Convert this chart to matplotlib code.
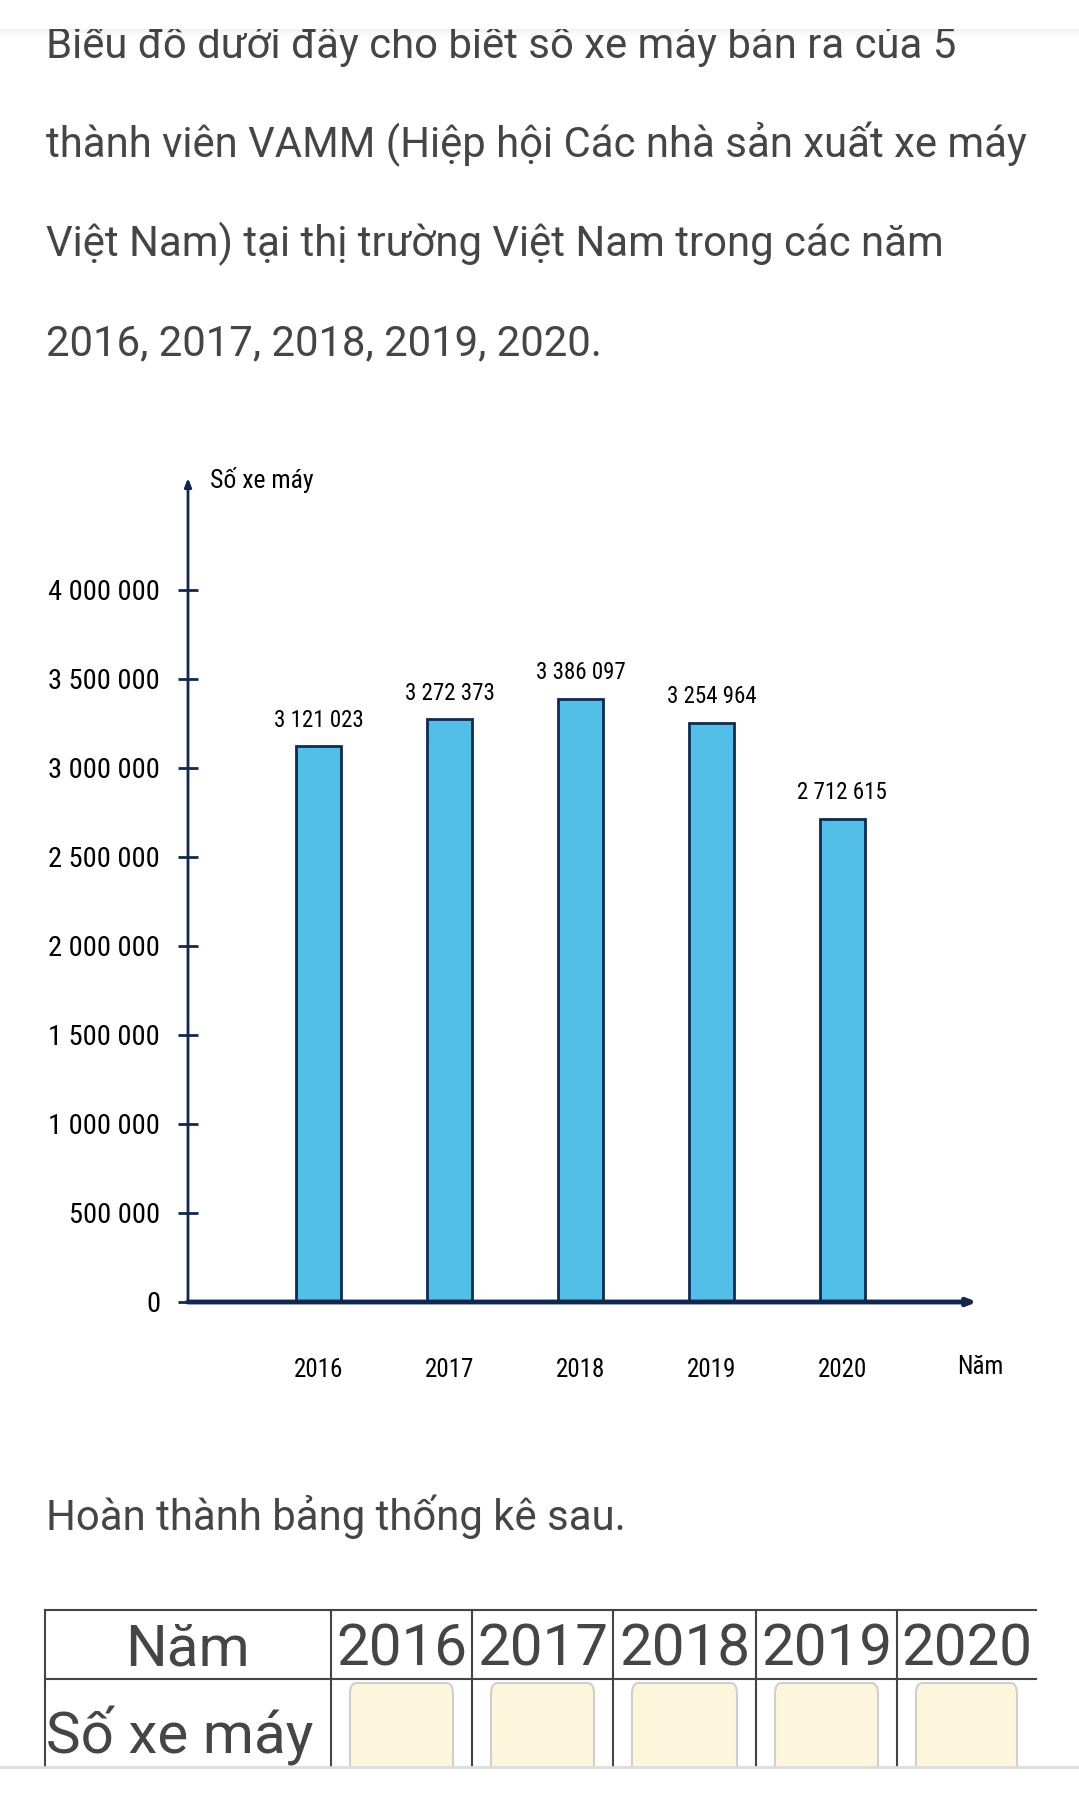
import matplotlib
matplotlib.use("Agg")
import matplotlib.pyplot as plt
from matplotlib.patches import Rectangle, FancyBboxPatch
from matplotlib import font_manager as fm
from matplotlib.font_manager import FontProperties

# ---------------- data ----------------
years = ["2016", "2017", "2018", "2019", "2020"]
sales = [3121023, 3272373, 3386097, 3254964, 2712615]
yticks = [0, 500000, 1000000, 1500000, 2000000, 2500000, 3000000, 3500000, 4000000]

paragraph = [
    "Biểu đồ dưới đây cho biết số xe máy bán ra của 5",
    "thành viên VAMM (Hiệp hội Các nhà sản xuất xe máy",
    "Việt Nam) tại thị trường Việt Nam trong các năm",
    "2016, 2017, 2018, 2019, 2020.",
]
instruction = "Hoàn thành bảng thống kê sau."
table_head = "Năm"
table_row = "Số xe máy"
y_title = "Số xe máy"
x_title = "Năm"

# ---------------- condensed font lookup ----------------
def find_condensed():
    cands = []
    for f in fm.fontManager.ttflist:
        n = f.fname.lower()
        if ("narrow" in n or "condensed" in n) and "bold" not in n and "oblique" not in n \
                and "italic" not in n and "light" not in n:
            score = 0
            if "liberationsansnarrow" in n.replace("-", "").replace("_", ""):
                score = 3
            elif "roboto" in n:
                score = 2
            elif "dejavusanscondensed" in n.replace("-", ""):
                score = 1
            cands.append((score, f.fname))
    if cands:
        cands.sort(reverse=True)
        return cands[0][1], True
    return None, False

cond_path, has_cond = find_condensed()

def cfont(size):
    if has_cond:
        return FontProperties(fname=cond_path, size=size)
    return FontProperties(family=["Liberation Sans", "DejaVu Sans"], size=size * 0.85)

# ---------------- setup ----------------
W, H = 1079, 1794
fig = plt.figure(figsize=(W / 100, H / 100), dpi=100)
fig.patch.set_facecolor("white")

def fx(x):
    return x / W

def fy(y):
    return 1 - y / H

TXT = "#454545"
NAVY = "#10284F"
PAR_FONT = ["Roboto", "DejaVu Sans"]

# paragraph text
baselines = [58, 157, 256, 355]
for line, b in zip(paragraph, baselines):
    fig.text(fx(46), fy(b), line, family=PAR_FONT, fontsize=30.2, color=TXT,
             ha="left", va="baseline")

fig.text(fx(46), fy(1530), instruction, family=PAR_FONT, fontsize=30.2, color=TXT,
         ha="left", va="baseline")

# ---------------- chart ----------------
ax = fig.add_axes([fx(188), fy(1302), fx(977) - fx(188), (1302 - 478) / H])
x = list(range(len(years)))
ax.bar(x, sales, width=0.344, color="#52BFE8", edgecolor="#0E2A55",
       linewidth=2, zorder=2)
ax.set_xlim(-1.0, 5.03)
ax.set_ylim(0, 4.629e6)
for s in ax.spines.values():
    s.set_visible(False)
ax.patch.set_alpha(0)

ax.set_yticks(yticks)
ax.set_yticklabels([f"{v:,}".replace(",", " ") for v in yticks])
for t in ax.get_yticklabels():
    t.set_fontproperties(cfont(20.5))
ax.tick_params(axis="y", direction="inout", length=14, width=2, color=NAVY, pad=13,
               labelcolor="black")
ax.set_xticks(x)
ax.set_xticklabels(years)
for t in ax.get_xticklabels():
    t.set_fontproperties(cfont(18))
ax.tick_params(axis="x", length=0, pad=40, labelcolor="black")

for xi, v in zip(x, sales):
    ax.annotate(f"{v:,}".replace(",", " "), xy=(xi, v), xytext=(0, 19),
                textcoords="offset points", ha="center", va="center",
                fontproperties=cfont(16.5), color="black")

# axis arrows
ax.annotate("", xy=(1.0, 0), xytext=(0, 0), xycoords="axes fraction",
            arrowprops=dict(arrowstyle="-|>,head_length=0.5,head_width=0.2",
                            color=NAVY, lw=3.5, shrinkA=0, shrinkB=0),
            annotation_clip=False, zorder=3)
ax.annotate("", xy=(0, 1.0), xytext=(0, 0), xycoords="axes fraction",
            arrowprops=dict(arrowstyle="-|>,head_length=0.5,head_width=0.2",
                            color=NAVY, lw=2, shrinkA=0, shrinkB=0),
            annotation_clip=False, zorder=3)

fig.text(fx(210), fy(480), y_title, fontproperties=cfont(18.5),
         color="black", ha="left", va="center")
fig.text(fx(980), fy(1367), x_title, fontproperties=cfont(18),
         color="black", ha="center", va="center")

# ---------------- table ----------------
col_edges = [45, 331, 472, 613, 756, 897, 1036]
top, mid, bottom = 1610, 1679, 1767
lc = "#444444"
for yy in (top, mid):
    fig.add_artist(plt.Line2D([fx(45), fx(1036)], [fy(yy), fy(yy)], color=lc, lw=1.5))
for xx in col_edges[:-1]:
    fig.add_artist(plt.Line2D([fx(xx), fx(xx)], [fy(top), fy(bottom)], color=lc, lw=1.5))

fig.text(fx((col_edges[0] + col_edges[1]) / 2), fy(1665), table_head, family=PAR_FONT,
         fontsize=42, color=TXT, ha="center", va="baseline")
for i, yr in enumerate(years):
    cx = (col_edges[i + 1] + col_edges[i + 2]) / 2
    fig.text(fx(cx), fy(1665), yr, family=PAR_FONT, fontsize=42, color=TXT,
             ha="center", va="baseline")
    bx0 = col_edges[i + 1] + 19
    bx1 = col_edges[i + 2] - 19
    fig.add_artist(FancyBboxPatch((fx(bx0), fy(1800)), fx(bx1) - fx(bx0), fy(1683) - fy(1800),
                                  boxstyle="round,pad=0,rounding_size=0.006",
                                  transform=fig.transFigure, facecolor="#FDF5DC",
                                  edgecolor="#CFCFCF", lw=1.5))
fig.text(fx(46), fy(1753), table_row, family=PAR_FONT, fontsize=42, color=TXT,
         ha="left", va="baseline")

# ---------------- page chrome overlays ----------------
fig.add_artist(Rectangle((0, 0), 1, fy(1767), transform=fig.transFigure,
                         facecolor="white", edgecolor="none", zorder=20))
fig.add_artist(plt.Line2D([0, 1], [fy(1767), fy(1767)], color="#DDDDDD", lw=2, zorder=21))
for k in range(8):
    fig.add_artist(Rectangle((0, fy(30 + k)), 1, 1 / H, transform=fig.transFigure,
                             facecolor="#000000", alpha=0.05 * (8 - k) / 8,
                             edgecolor="none", zorder=20))
fig.add_artist(Rectangle((0, fy(29)), 1, 29 / H, transform=fig.transFigure,
                         facecolor="white", edgecolor="none", zorder=21))

fig.savefig("out.png", dpi=100, facecolor="white")
